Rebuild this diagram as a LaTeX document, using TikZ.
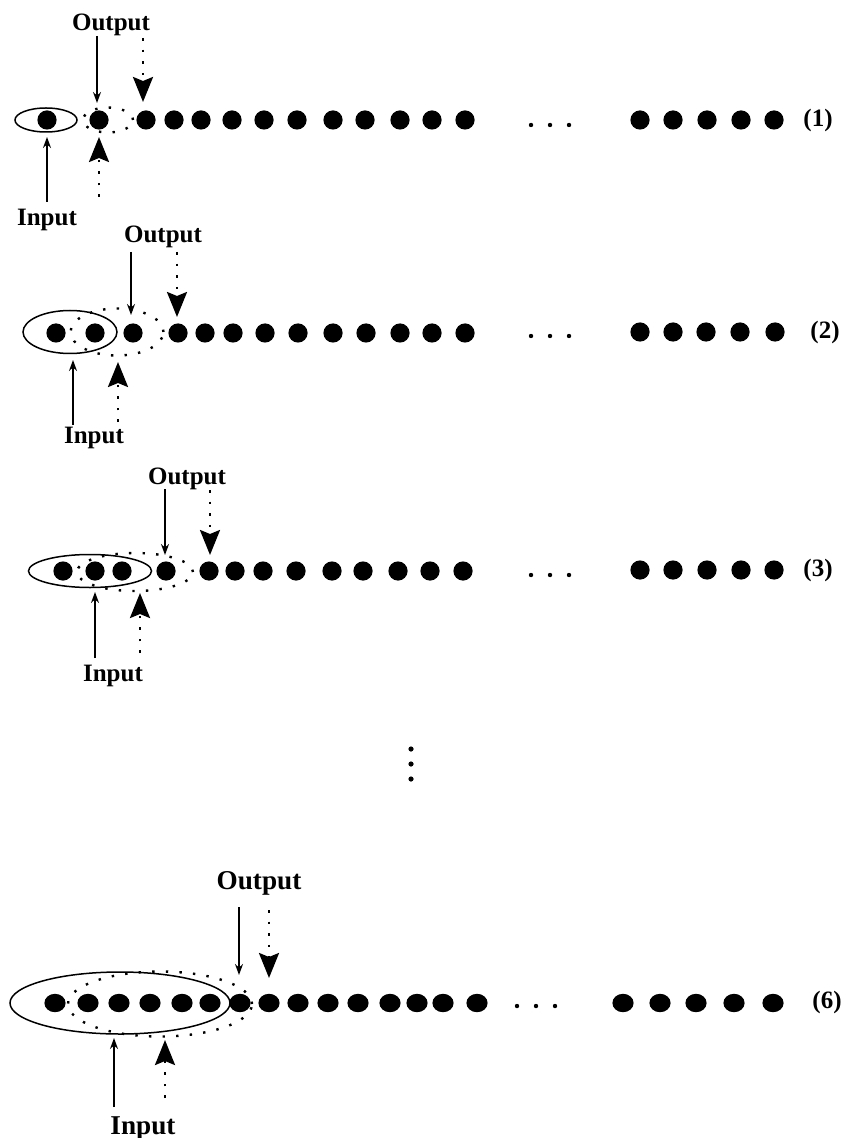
\documentclass[tikz,border=0pt]{standalone}
\usepackage{fontspec}
\setmainfont{Liberation Serif}
\usetikzlibrary{arrows.meta,shapes.geometric}

\tikzset{
  bead/.style={circle,fill=black,inner sep=0pt,minimum size=9.6pt},
  obead/.style={ellipse,fill=black,inner sep=0pt,minimum width=10.6pt,minimum height=9.2pt},
  tinydot/.style={circle,fill=black,inner sep=0pt,minimum size=2.2pt},
  lbl/.style={font=\fontsize{12.5}{15}\selectfont\bfseries,inner sep=0pt,anchor=base},
  biglbl/.style={lbl,font=\fontsize{13.6}{16}\selectfont\bfseries},
  numlbl/.style={font=\fontsize{12.5}{15}\selectfont\bfseries,inner sep=0pt},
  winbox/.style={ellipse,draw,line width=.75pt,inner sep=0pt},
  nextbox/.style={ellipse,draw,line width=1.2pt,dash pattern=on 1.2pt off 5.6pt,inner sep=0pt},
  inarr/.style={line width=.7pt,-{Stealth[length=5.5pt,width=4pt]}},
  nextarr/.style={line width=1.3pt,dash pattern=on 1.3pt off 4.5pt,-{Stealth[length=12.5pt,width=10pt,inset=2pt]}},
}

\begin{document}
\begin{tikzpicture}[x=0.5pt,y=-0.5pt]
\useasboundingbox (0,0) rectangle (852,1138);

% ---- step (1)
\node[winbox,minimum width=31pt,minimum height=12pt] (win1) at (46,120) {};
\node[nextbox,minimum width=25pt,minimum height=12.5pt] (nxt1) at (108,120) {};
\foreach \x [count=\i] in {47,99,146,174,201,232,264,297,333,365,400,432,465}
  \node[bead] (a\i) at (\x,120) {};
\foreach \x [count=\i] in {531,550,569}
  \node[tinydot] (ae\i) at (\x,125) {};
\foreach \x [count=\i] in {640,673,707,741,774}
  \node[bead] (ar\i) at (\x,120) {};
\node[numlbl] (n1) at (818,120) {(1)};
\node[lbl] (out1) at (111,31) {Output};
\node[lbl] (in1) at (47,226) {Input};
\coordinate (o1s) at (97,36);   \coordinate (o1e) at (97,103);
\coordinate (p1s) at (143,38);  \coordinate (p1e) at (143,102);
\coordinate (i1s) at (47,202);  \coordinate (i1e) at (47,137);
\coordinate (q1s) at (99,197);  \coordinate (q1e) at (99,137);
\draw[inarr] (o1s) -- (o1e);
\draw[nextarr] (p1s) -- (p1e);
\draw[inarr] (i1s) -- (i1e);
\draw[nextarr] (q1s) -- (q1e);

% ---- step (2)
\node[winbox,minimum width=47pt,minimum height=21.5pt] (win2) at (70,332) {};
\node[nextbox,minimum width=46.5pt,minimum height=23.5pt] (nxt2) at (117,332) {};
\foreach \x [count=\i] in {56,95,133,178,205,233,265,298,333,366,400,432,465}
  \node[bead] (b\i) at (\x,333) {};
\foreach \x [count=\i] in {531,550,569}
  \node[tinydot] (be\i) at (\x,336) {};
\foreach \x [count=\i] in {640,673,706,740,775}
  \node[bead] (br\i) at (\x,332) {};
\node[numlbl] (n2) at (825,332) {(2)};
\node[lbl] (out2) at (163,243) {Output};
\node[lbl] (in2) at (94,443) {Input};
\coordinate (o2s) at (131,252); \coordinate (o2e) at (131,315);
\coordinate (p2s) at (177,252); \coordinate (p2e) at (177,317);
\coordinate (i2s) at (73,425);  \coordinate (i2e) at (73,360);
\coordinate (q2s) at (118,422); \coordinate (q2e) at (118,362);
\draw[inarr] (o2s) -- (o2e);
\draw[nextarr] (p2s) -- (p2e);
\draw[inarr] (i2s) -- (i2e);
\draw[nextarr] (q2s) -- (q2e);

% ---- step (3)
\node[winbox,minimum width=61.5pt,minimum height=16.5pt] (win3) at (90,571) {};
\node[nextbox,minimum width=58pt,minimum height=19pt] (nxt3) at (135,572) {};
\foreach \x [count=\i] in {63,95,122,166,209,235,263,296,332,363,398,430,463}
  \node[bead] (c\i) at (\x,571) {};
\foreach \x [count=\i] in {531,550,569}
  \node[tinydot] (ce\i) at (\x,575) {};
\foreach \x [count=\i] in {640,673,707,741,774}
  \node[bead] (cr\i) at (\x,570) {};
\node[numlbl] (n3) at (818,570) {(3)};
\node[lbl] (out3) at (187,484) {Output};
\node[lbl] (in3) at (113,681) {Input};
\coordinate (o3s) at (165,489); \coordinate (o3e) at (165,555);
\coordinate (p3s) at (210,490); \coordinate (p3e) at (210,555);
\coordinate (i3s) at (95,658);  \coordinate (i3e) at (95,592);
\coordinate (q3s) at (140,653); \coordinate (q3e) at (140,593);
\draw[inarr] (o3s) -- (o3e);
\draw[nextarr] (p3s) -- (p3e);
\draw[inarr] (i3s) -- (i3e);
\draw[nextarr] (q3s) -- (q3e);

% ---- skipped steps
\foreach \y [count=\i] in {749,764,779}
  \node[tinydot,minimum size=2.6pt] (v\i) at (411,\y) {};

% ---- step (6)
\node[winbox,minimum width=110pt,minimum height=31pt] (win6) at (120,1003) {};
\node[nextbox,minimum width=92pt,minimum height=32.5pt] (nxt6) at (160,1004) {};
\foreach \x [count=\i] in {55,88,119,150,182,210,240,269,298,328,358,390,417,443,477}
  \node[obead] (f\i) at (\x,1003) {};
\foreach \x [count=\i] in {517,536,555}
  \node[tinydot] (fe\i) at (\x,1006) {};
\foreach \x [count=\i] in {623,660,696,734,773}
  \node[obead] (fr\i) at (\x,1003) {};
\node[numlbl] (n6) at (827,1002) {(6)};
\node[biglbl] (out6) at (259,889) {Output};
\node[biglbl] (in6) at (143,1134) {Input};
\coordinate (o6s) at (239,907);  \coordinate (o6e) at (239,975);
\coordinate (p6s) at (269,910);  \coordinate (p6e) at (269,978);
\coordinate (i6s) at (114,1107); \coordinate (i6e) at (114,1038);
\coordinate (q6s) at (165,1098); \coordinate (q6e) at (165,1040);
\draw[inarr] (o6s) -- (o6e);
\draw[nextarr] (p6s) -- (p6e);
\draw[inarr] (i6s) -- (i6e);
\draw[nextarr] (q6s) -- (q6e);
\end{tikzpicture}
\end{document}
